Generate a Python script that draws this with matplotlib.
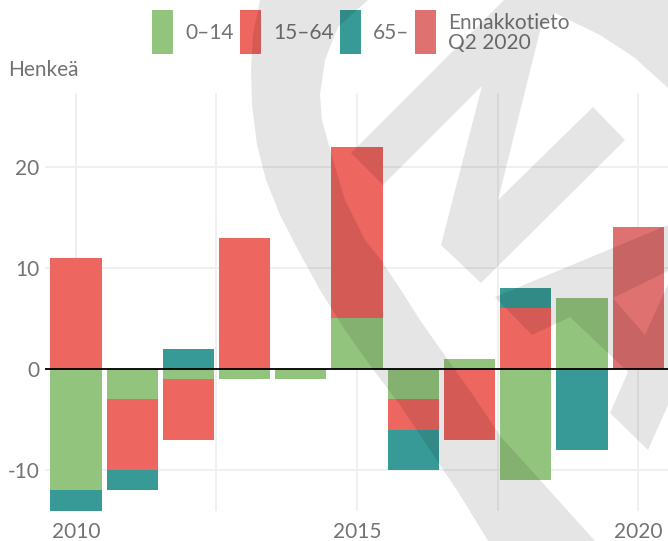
#!/usr/bin/env python3
# -*- coding: utf-8 -*-

import numpy as np
import matplotlib
matplotlib.use("Agg")
import matplotlib.pyplot as plt
from matplotlib.patches import Polygon, Rectangle

# ============================================================
# DATA
# ============================================================
YEARS = [2010, 2011, 2012, 2013, 2014, 2015, 2016, 2017, 2018, 2019]
AGE_0_14 = [-12, -3, -1, -1, -1, 5, -3, 1, -11, 7]
AGE_15_64 = [11, -7, -6, 13, 0, 17, -3, -7, 6, 0]
AGE_65 = [-2, -2, 2, 0, 0, 0, -4, 0, 2, -8]

FORECAST_YEARS = [2020]
FORECAST = [14]

SERIES_LABELS = ["0\u201314", "15\u201364", "65\u2013", "Ennakkotieto\nQ2 2020"]
Y_LABEL = "Henke\u00e4"
Y_TICKS = [-10, 0, 10, 20]
X_TICKS = [2010, 2015, 2020]

# ============================================================
# STYLE
# ============================================================
W, H, DPI = 668, 541, 100
COLORS = ["#93C47D", "#ED665F", "#389A96", "#DF7170"]
TEXT_COLOR = "#737373"
GRID_COLOR = "#F0F0F0"
FONT = "Lato"
FS = 15
BAR_W = 0.91

# watermark outline in image pixels (x right, y down)
WM_ARC = [(260, 0), (253, 35), (251, 70), (252, 105), (257, 145), (266, 180),
          (280, 215), (298, 250), (320, 290), (345, 330), (372, 368),
          (400, 405), (430, 450), (460, 495), (488, 541),
          (595, 541), (541, 481), (501, 437), (473, 395), (448, 360),
          (420, 320), (401, 290), (381, 260), (365, 240), (345, 200),
          (333, 160), (322, 120), (320, 95), (325, 60), (338, 27), (368, 0)]
WM_K = [(351, 153), (504, 0), (668, 0), (668, 88), (635, 58), (600, 35),
        (555, 13), (541, 27), (498, 200), (593, 107), (625, 140),
        (481, 283), (441, 245), (482, 86), (383, 185)]
WM_C = [(495, 297), (668, 225), (668, 271), (613, 298), (645, 335),
        (668, 284), (668, 405), (648, 450), (610, 413), (628, 372),
        (570, 317), (532, 335)]


def px(x, y):
    return x / W, 1 - y / H


def stack(series_list):
    """Bottoms for stacked bars, positives and negatives separately."""
    pos = np.zeros(len(series_list[0]))
    neg = np.zeros(len(series_list[0]))
    out = []
    for s in series_list:
        s = np.asarray(s, float)
        bottom = np.where(s >= 0, pos, neg)
        out.append(bottom)
        pos = pos + np.clip(s, 0, None)
        neg = neg + np.clip(s, None, 0)
    return out


def main():
    plt.rcParams["font.family"] = [FONT, "DejaVu Sans"]
    plt.rcParams["axes.unicode_minus"] = False
    fig = plt.figure(figsize=(W / DPI, H / DPI), dpi=DPI)

    left, right, top, bottom = 45, 668, 93, 510.5
    ax = fig.add_axes([left / W, 1 - bottom / H, (right - left) / W, (bottom - top) / H])

    series = [AGE_0_14, AGE_15_64, AGE_65]
    bottoms = stack(series)
    for s, b, c in zip(series, bottoms, COLORS[:3]):
        ax.bar(YEARS, s, bottom=b, width=BAR_W, color=c, linewidth=0, zorder=2)
    ax.bar(FORECAST_YEARS, FORECAST, width=BAR_W, color=COLORS[3], linewidth=0, zorder=2)

    ax.axhline(0, color="black", lw=1.3, zorder=3)

    ax.set_xlim(2009.45, 2020.53)
    ax.set_ylim(-14, 27.3)
    ax.set_xticks(X_TICKS)
    ax.set_xticks([2012.5, 2017.5], minor=True)
    ax.set_yticks(Y_TICKS)
    ax.grid(True, which="both", color=GRID_COLOR, lw=1.4, zorder=0)
    ax.set_axisbelow(True)
    ax.tick_params(which="both", length=0, labelsize=FS, labelcolor=TEXT_COLOR)
    ax.tick_params(axis="x", pad=8)
    ax.tick_params(axis="y", pad=4)
    for sp in ax.spines.values():
        sp.set_visible(False)

    # legend, drawn by hand
    fig.text(*px(8, 70), Y_LABEL, fontsize=FS, color=TEXT_COLOR,
             ha="left", va="center")
    patch_x = [152, 240, 340, 415]
    for x0, c, lab in zip(patch_x, COLORS, SERIES_LABELS):
        fx, fy = px(x0, 54)
        fig.patches.append(Rectangle((fx, fy), 21 / W, 44 / H, transform=fig.transFigure,
                                     facecolor=c, edgecolor="none", zorder=5))
        fig.text(*px(x0 + 33, 33), lab, fontsize=FS, color=TEXT_COLOR,
                 ha="left", va="center", linespacing=1.0)

    # grey logo watermark over everything
    for poly in (WM_ARC, WM_K, WM_C):
        pts = [px(x, y) for x, y in poly]
        fig.patches.append(Polygon(pts, closed=True, transform=fig.transFigure,
                                   facecolor="black", alpha=0.1, edgecolor="none",
                                   zorder=10))

    fig.savefig("out.png", dpi=DPI)
    plt.close(fig)


if __name__ == "__main__":
    main()
